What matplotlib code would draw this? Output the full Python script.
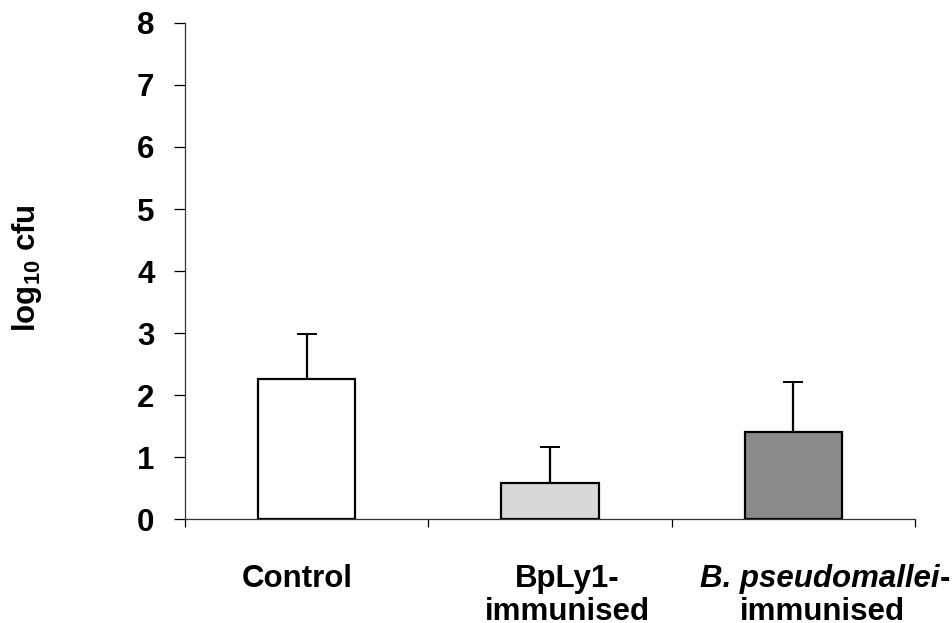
import numpy as np
from matplotlib import pyplot as plt

plt.rcParams['font.family'] = ['Liberation Sans', 'DejaVu Sans']
plt.rcParams['font.weight'] = 'bold'
plt.rcParams['mathtext.fontset'] = 'custom'
plt.rcParams['mathtext.rm'] = 'Liberation Sans:bold'

means = [2.26, 0.58, 1.40]
sem = [0.73, 0.58, 0.81]
fills = ['white', '#d8d8d8', '#8a8a8a']
# category text: (first line, second line), first line may be italic
label_lines = [('Control', ''), ('BpLy1-', 'immunised'), ('B. pseudomallei', 'immunised')]
label_x = [0.46, 1.57, 2.62]

fs = 22.5
fig = plt.figure(figsize=(9.53, 6.23), dpi=100)
ax = fig.add_axes([0.1941, 0.1669, 0.766, 0.7962])

ind = np.arange(len(means)) + 0.5
ax.bar(ind, means, 0.4, color=fills, edgecolor='black', linewidth=1.6, zorder=2)
# one-sided error bars (upper only)
ax.errorbar(ind, means, yerr=[[0] * len(sem), sem], fmt='none', ecolor='black',
            elinewidth=1.6, capsize=7.5, capthick=1.4, zorder=1)

ax.set_xlim(0, 3)
ax.set_ylim(0, 8)
ax.set_yticks(range(0, 9))
ax.set_xticks([0, 1, 2, 3])
ax.set_xticklabels([])
ax.tick_params(axis='x', direction='out', length=6, width=0.9)
ax.tick_params(axis='y', direction='out', length=8, width=0.9, pad=14, labelsize=fs)

for s in ['top', 'right']:
    ax.spines[s].set_visible(False)
for s in ['left', 'bottom']:
    ax.spines[s].set_linewidth(0.9)
    ax.spines[s].set_color('#333333')

# category labels below the axis
trans = ax.get_xaxis_transform()
y1, y2 = -0.137, -0.204
for i, (l1, l2) in enumerate(label_lines):
    if i == 2:
        ax.text(label_x[i] + 0.48, y1, l1, transform=trans, ha='right', va='baseline',
                fontsize=fs, fontstyle='italic', clip_on=False)
        ax.text(label_x[i] + 0.48, y1, '-', transform=trans, ha='left', va='baseline',
                fontsize=fs, clip_on=False)
    else:
        ax.text(label_x[i], y1, l1, transform=trans, ha='center', va='baseline',
                fontsize=fs, clip_on=False)
    if l2:
        ax.text(label_x[i], y2, l2, transform=trans, ha='center', va='baseline',
                fontsize=fs, clip_on=False)

ax.set_ylabel(r'log$_{10}$ cfu', fontsize=fs, fontweight='bold', va='center')
ax.yaxis.set_label_coords(-0.216, 0.505)

fig.savefig('out.png', dpi=100)
